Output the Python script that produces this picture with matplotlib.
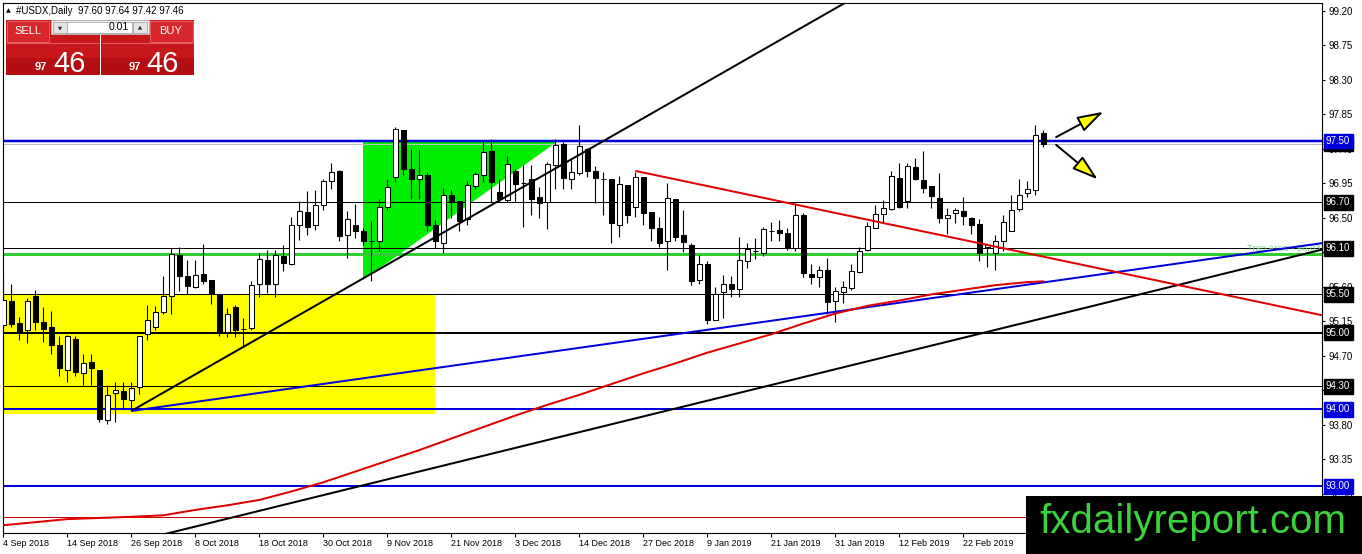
import matplotlib
matplotlib.use('Agg')
import matplotlib.pyplot as plt
from matplotlib.patches import Rectangle, Polygon, FancyArrowPatch
import matplotlib.transforms as mtransforms
import numpy as np

plt.rcParams['font.family'] = ['Liberation Sans', 'DejaVu Sans']

# ---------------- data ----------------
opens = [95.10, 95.41, 95.13, 95.04, 95.48, 95.14, 95.07, 94.84, 94.51, 94.92,
         94.48, 94.62, 94.52, 93.86, 94.21, 94.24, 94.12, 94.29, 94.98, 95.08,
         95.27, 95.48, 96.01, 95.74, 95.60, 95.77, 95.69, 95.51, 95.01, 95.34,
         95.05, 95.06, 95.64, 95.95, 95.64, 96.00, 95.90, 96.40, 96.57, 96.41,
         96.66, 96.98, 97.11, 96.28, 96.41, 96.32, 96.20, 96.19, 96.64, 97.03,
         97.64, 97.14, 97.00, 97.06, 96.40, 96.17, 96.79, 96.72, 96.48, 96.91,
         97.05, 97.37, 96.83, 96.73, 97.11, 96.95, 97.01, 96.77, 96.70, 97.19,
         97.46, 97.01, 97.08, 97.40, 97.11, 97.01, 97.00, 96.41, 96.93, 96.64,
         97.03, 96.57, 96.37, 96.19, 96.75, 96.27, 96.14, 95.69, 95.90, 95.17,
         95.53, 95.64, 95.57, 95.94, 96.07, 96.04, 96.33, 96.34, 96.30, 96.11,
         96.54, 95.77, 95.73, 95.82, 95.42, 95.53, 95.58, 95.79, 96.08, 96.37,
         96.55, 96.61, 97.02, 96.72, 97.16, 96.99, 96.91, 96.76, 96.49, 96.56,
         96.59, 96.50, 96.42, 96.12, 96.04, 96.20, 96.33, 96.61, 96.82, 96.86,
         97.60]
highs = [95.73, 95.64, 95.20, 95.45, 95.56, 95.34, 95.28, 94.96, 94.97, 94.96,
         94.72, 94.72, 94.52, 94.32, 94.36, 94.36, 94.36, 94.96, 95.36, 95.35,
         95.74, 96.10, 96.12, 95.95, 95.95, 96.16, 95.69, 95.51, 95.32, 95.36,
         95.19, 95.67, 96.04, 96.08, 96.08, 96.14, 96.51, 96.72, 96.85, 96.86,
         97.01, 97.21, 97.12, 96.59, 96.68, 96.36, 96.46, 96.75, 97.00, 97.68,
         97.64, 97.40, 97.38, 97.10, 96.47, 96.89, 96.86, 96.72, 96.98, 97.10,
         97.49, 97.53, 97.00, 97.31, 97.14, 97.19, 97.19, 96.90, 97.23, 97.53,
         97.49, 97.25, 97.71, 97.41, 97.17, 97.10, 97.00, 97.04, 96.93, 97.10,
         97.03, 96.58, 96.51, 96.95, 96.75, 96.60, 96.17, 96.01, 95.93, 95.60,
         95.75, 95.74, 96.25, 96.17, 96.24, 96.38, 96.45, 96.47, 96.36, 96.69,
         96.56, 95.90, 95.87, 95.97, 95.60, 95.67, 95.90, 96.12, 96.45, 96.66,
         96.73, 97.11, 97.21, 97.21, 97.28, 97.37, 96.91, 97.08, 96.63, 96.63,
         96.77, 96.51, 96.48, 96.17, 96.27, 96.54, 96.80, 97.00, 96.98, 97.71,
         97.64]
lows = [95.08, 95.08, 94.91, 94.86, 95.04, 94.88, 94.72, 94.43, 94.36, 94.43,
        94.32, 94.32, 93.83, 93.81, 93.84, 94.01, 93.99, 94.20, 94.91, 95.04,
        95.25, 95.25, 95.54, 95.51, 95.58, 95.63, 95.38, 94.96, 94.94, 94.95,
        94.81, 95.04, 95.47, 95.52, 95.47, 95.80, 95.88, 96.21, 96.27, 96.34,
        96.60, 96.87, 96.19, 95.98, 96.24, 96.14, 95.67, 96.06, 96.60, 96.96,
        97.06, 96.74, 96.74, 96.32, 96.11, 96.04, 96.49, 96.32, 96.41, 96.88,
        96.97, 96.70, 96.70, 96.70, 96.71, 96.38, 96.54, 96.49, 96.35, 96.88,
        96.88, 96.87, 97.06, 97.03, 96.69, 96.54, 96.17, 96.25, 96.43, 96.51,
        96.40, 96.19, 96.12, 95.82, 96.19, 96.05, 95.62, 95.64, 95.12, 95.16,
        95.19, 95.47, 95.46, 95.84, 95.96, 96.00, 96.20, 96.19, 96.08, 96.06,
        95.73, 95.63, 95.60, 95.25, 95.14, 95.39, 95.56, 95.78, 96.06, 96.36,
        96.43, 96.60, 96.62, 96.62, 96.99, 96.82, 96.63, 96.43, 96.29, 96.43,
        96.40, 96.29, 95.94, 95.86, 95.82, 96.06, 96.32, 96.59, 96.77, 96.80,
        97.42]
closes = [95.43, 95.12, 95.01, 95.41, 95.14, 95.05, 94.84, 94.54, 94.96, 94.49,
          94.60, 94.54, 93.88, 94.19, 94.25, 94.13, 94.28, 94.96, 95.17, 95.27,
          95.48, 96.03, 95.74, 95.61, 95.75, 95.67, 95.51, 95.01, 95.24, 95.04,
          95.05, 95.62, 95.96, 95.64, 96.01, 95.91, 96.41, 96.59, 96.38, 96.67,
          96.98, 97.09, 96.26, 96.48, 96.33, 96.20, 96.20, 96.64, 96.90, 97.66,
          97.13, 97.00, 97.05, 96.40, 96.19, 96.80, 96.70, 96.46, 96.92, 97.07,
          97.36, 96.97, 96.75, 97.20, 96.94, 96.95, 96.75, 96.69, 97.20, 97.45,
          97.02, 97.09, 97.43, 97.11, 97.02, 97.01, 96.43, 96.94, 96.54, 97.03,
          96.56, 96.36, 96.17, 96.76, 96.25, 96.18, 95.67, 95.90, 95.17, 95.51,
          95.64, 95.57, 95.95, 96.09, 96.07, 96.35, 96.33, 96.30, 96.11, 96.54,
          95.78, 95.73, 95.82, 95.40, 95.54, 95.59, 95.80, 96.06, 96.39, 96.55,
          96.62, 97.04, 96.64, 97.17, 97.00, 96.89, 96.78, 96.50, 96.54, 96.60,
          96.52, 96.41, 96.04, 96.14, 96.20, 96.44, 96.60, 96.80, 96.87, 97.58,
          97.46]

# moving average (read at sampled bars)
ma_bars = [0, 8, 16, 20, 24, 28, 32, 36, 40, 44, 48, 52, 56, 60, 64, 68, 72, 76,
           80, 84, 88, 92, 96, 100, 104, 108, 112, 116, 120, 124, 128, 130]
ma_vals = [92.49, 92.57, 92.60, 92.62, 92.69, 92.75, 92.82, 92.93, 93.05, 93.19,
           93.33, 93.47, 93.62, 93.77, 93.92, 94.06, 94.19, 94.33, 94.47, 94.60,
           94.74, 94.86, 94.98, 95.12, 95.25, 95.35, 95.42, 95.50, 95.56, 95.62,
           95.66, 95.67]

date_ticks = [0, 8, 16, 24, 32, 40, 48, 56, 64, 72, 80, 88, 96, 104, 112, 120]
date_labels = ['4 Sep 2018', '14 Sep 2018', '26 Sep 2018', '8 Oct 2018',
               '18 Oct 2018', '30 Oct 2018', '9 Nov 2018', '21 Nov 2018',
               '3 Dec 2018', '14 Dec 2018', '27 Dec 2018', '9 Jan 2019',
               '21 Jan 2019', '31 Jan 2019', '12 Feb 2019', '22 Feb 2019']
price_ticks = [99.20, 98.75, 98.30, 97.85, 97.40, 96.95, 96.50, 96.05, 95.60,
               95.15, 94.70, 94.25, 93.80, 93.35, 92.90]
price_tick_labels = ['99.20', '98.75', '98.30', '97.85', '97.40', '96.95', '96.50',
                     '96.05', '95.60', '95.15', '94.70', '94.25', '93.80', '93.35',
                     '92.90']

# horizontal levels: price, colour, width(px)
hlines_price = [97.50, 96.70, 96.10, 96.03, 95.50, 95.00, 94.30, 94.00, 93.00, 92.60, 97.46]
hlines_color = ['#0000DD', 'black', 'black', '#33CC33', 'black', 'black', 'black',
                '#0000DD', '#0000DD', '#CC0000', '#C0C0C0']
hlines_px = [2.5, 1, 1, 3, 1, 2, 1, 2, 2, 1, 1]

# trendlines: (x0, y0, x1, y1) in bars / price
tl_black_up = (16, 93.98, 105.2, 99.30)
tl_black_long = (19.6, 92.36, 164.3, 96.07)
tl_blue = (16, 93.98, 164.3, 96.16)
tl_red = (79, 97.11, 164.3, 95.24)

yellow_box = (-1, 93.94, 53.96, 95.50)        # x0, y0, x1, y1
green_tri = [(44.96, 95.69), (44.96, 97.50), (69.34, 97.50)]

arrow_up = (131.6, 97.55, 137.5, 97.88)
arrow_dn = (131.6, 97.45, 136.8, 97.00)

axis_boxes = [(97.46, '97.46', 'black'), (97.50, '97.50', '#0000DD'),
              (96.70, '96.70', 'black'), (96.10, '96.10', 'black'),
              (95.50, '95.50', 'black'), (95.00, '95.00', 'black'),
              (94.30, '94.30', 'black'), (94.00, '94.00', '#0000DD'),
              (93.00, '93.00', '#0000DD')]

# ---------------- figure ----------------
W, H = 1362, 554
fig = plt.figure(figsize=(W / 100, H / 100), dpi=100)
fig.patch.set_facecolor('white')
PX = 72 / 100.0  # points per pixel

Lp, Rp, Tp, Bp = 3, 1322, 3, 533
ax = fig.add_axes([Lp / W, 1 - Bp / H, (Rp - Lp) / W, (Bp - Tp) / H])
ax.set_facecolor('white')
ax.set_xlim(-0.0375, 164.84)
ax.set_ylim(92.389, 99.299)

# background objects
ax.add_patch(Rectangle((yellow_box[0], yellow_box[1]), yellow_box[2] - yellow_box[0],
                       yellow_box[3] - yellow_box[1], facecolor='#FFFF00',
                       edgecolor='none', zorder=1))
ax.add_patch(Polygon(green_tri, closed=True, facecolor='#00EE00', edgecolor='none', zorder=1))

# horizontal lines
for p, c, w in zip(hlines_price, hlines_color, hlines_px):
    z = 1.5 if c == '#C0C0C0' else 2
    ax.axhline(p, color=c, lw=w * PX, zorder=z)

# candles
n = len(opens)
for i in range(n):
    o, h, l, c = opens[i], highs[i], lows[i], closes[i]
    ax.vlines(i, l, h, color='black', lw=0.8, zorder=3)
    bot = min(o, c)
    ht = abs(c - o)
    fc = 'white' if c > o else 'black'
    ax.add_patch(Rectangle((i - 0.28, bot), 0.56, ht, facecolor=fc,
                           edgecolor='black', lw=0.75, zorder=4))

# trendlines (rays extended to the right edge)
def ray(t, color, lw):
    x0, y0, x1, y1 = t
    s = (y1 - y0) / (x1 - x0)
    xe = 170
    ax.plot([x0, xe], [y0, y0 + s * (xe - x0)], color=color, lw=lw, zorder=5,
            solid_capstyle='butt')

ray(tl_black_long, 'black', 2 * PX)
ray(tl_black_up, 'black', 2 * PX)
ray(tl_blue, '#0000DD', 2 * PX)
ray(tl_red, '#E00000', 2 * PX)

# moving average
ax.plot(ma_bars, ma_vals, color='#E00000', lw=2 * PX, zorder=5)

# trap area text
ax.text(155.5, 96.045, 'Trap Area - 96.03', color='#6FD86F', fontsize=6.8,
        ha='left', va='bottom', zorder=4.5, clip_on=True)

# arrows
for a in (arrow_up, arrow_dn):
    ar = FancyArrowPatch((a[0], a[1]), (a[2], a[3]),
                         arrowstyle='-|>,head_length=0.8,head_width=0.25',
                         mutation_scale=20, facecolor='#FFFF00', edgecolor='black',
                         lw=1.4, shrinkA=0, shrinkB=0, zorder=7)
    ax.add_patch(ar)

# axes styling
for sp in ax.spines.values():
    sp.set_color('black')
    sp.set_linewidth(0.8)
ax.yaxis.tick_right()
ax.set_yticks(price_ticks)
ax.set_yticklabels(price_tick_labels)
ax.tick_params(axis='y', direction='out', length=3 * PX, width=0.8, pad=2.5,
               labelsize=7, right=True, left=False, colors='black')
ax.set_xticks(date_ticks)
ax.set_xticklabels(date_labels, ha='left')
ax.tick_params(axis='x', direction='out', length=4 * PX, width=0.8, pad=1.5,
               labelsize=6.5, colors='black')

# price boxes on the axis
trans_lab = mtransforms.blended_transform_factory(ax.transAxes, ax.transData) + \
    mtransforms.ScaledTranslation(4 / 100, 0, fig.dpi_scale_trans)
for p, s, c in axis_boxes:
    ax.text(1.0, p, s, transform=trans_lab, color='white', fontsize=7,
            ha='left', va='center', clip_on=False, zorder=20,
            bbox=dict(boxstyle='square,pad=0.25', fc=c, ec=c))

# ---------------- header / trading panel ----------------
def frect(x0, y0, x1, y1, **kw):
    fig.add_artist(Rectangle((x0 / W, 1 - y1 / H), (x1 - x0) / W, (y1 - y0) / H,
                             transform=fig.transFigure, **kw))

def ftext(x, y, s, **kw):
    fig.text(x / W, 1 - y / H, s, **kw)

ftext(6, 10.5, '\u25B2', fontsize=4.5, va='center', ha='left', color='black',
      family=['DejaVu Sans'])
ftext(16, 10.5, '#USDX,Daily  97.60 97.64 97.42 97.46', fontsize=7, va='center',
      ha='left', color='black')

red = '#C8171B'
frect(6, 20, 99.5, 75.5, fc=red, ec='none', zorder=10)
frect(100.5, 20, 193.5, 75.5, fc=red, ec='none', zorder=10)
frect(6, 58, 99.5, 75.5, fc='#B30F12', ec='none', zorder=10)
frect(100.5, 58, 193.5, 75.5, fc='#B30F12', ec='none', zorder=10)
frect(7, 21, 49, 41.5, fc='#D5272C', ec='#E46A6A', lw=0.6, zorder=11)
frect(150, 21, 192.5, 41.5, fc='#D5272C', ec='#E46A6A', lw=0.6, zorder=11)
fig.add_artist(plt.Line2D([7 / W, 98.5 / W], [1 - 42.5 / H, 1 - 42.5 / H],
                          color='#E46A6A', lw=0.6, zorder=11))
fig.add_artist(plt.Line2D([101.5 / W, 192.5 / W], [1 - 42.5 / H, 1 - 42.5 / H],
                          color='#E46A6A', lw=0.6, zorder=11))
frect(51, 20, 149, 34, fc='#F3F3F3', ec='#B8B8B8', lw=0.6, zorder=11)
frect(53, 21.5, 66.5, 33, fc='#E4E4E4', ec='#A8A8A8', lw=0.6, zorder=12)
frect(67, 21.5, 132, 33, fc='white', ec='#A8A8A8', lw=0.6, zorder=12)
frect(133, 21.5, 147, 33, fc='#E4E4E4', ec='#A8A8A8', lw=0.6, zorder=12)
ftext(59.8, 27.5, '\u25BC', fontsize=3.8, ha='center', va='center', color='#222222',
      family=['DejaVu Sans'], zorder=13)
ftext(140, 27, '\u25B2', fontsize=3.8, ha='center', va='center', color='#222222',
      family=['DejaVu Sans'], zorder=13)
ftext(129, 27.5, '0.01', fontsize=7.5, ha='right', va='center', color='black', zorder=13)
ftext(27.5, 31.5, 'SELL', fontsize=8, ha='center', va='center', color='white', zorder=13)
ftext(170.5, 31.5, 'BUY', fontsize=8, ha='center', va='center', color='white', zorder=13)
ftext(41, 70, '97', fontsize=8, ha='center', va='baseline', color='white',
      fontweight='bold', zorder=13)
ftext(70, 71.5, '46', fontsize=21, ha='center', va='baseline', color='white', zorder=13)
ftext(135, 70, '97', fontsize=8, ha='center', va='baseline', color='white',
      fontweight='bold', zorder=13)
ftext(163, 71.5, '46', fontsize=21, ha='center', va='baseline', color='white', zorder=13)

# ---------------- watermark ----------------
frect(1026, 496, 1362, 554, fc='black', ec='none', zorder=30)
ftext(1193, 533, 'fxdailyreport.com', fontsize=29, ha='center', va='baseline',
      color='#3CD23C', zorder=31)

fig.savefig('out.png', dpi=100, facecolor='white')
